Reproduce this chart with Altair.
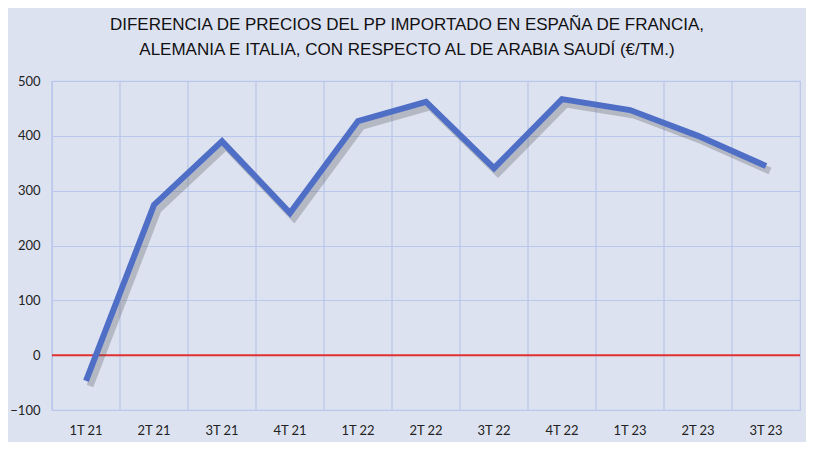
import altair as alt
import pandas as pd

categories = ["1T 21", "2T 21", "3T 21", "4T 21", "1T 22", "2T 22", "3T 22", "4T 22", "1T 23", "2T 23", "3T 23"]
values = [-47, 274, 390, 259, 427, 462, 341, 467, 447, 400, 345]
title_lines = ["DIFERENCIA DE PRECIOS DEL PP IMPORTADO EN ESPAÑA DE FRANCIA,",
               "ALEMANIA E ITALIA, CON RESPECTO AL DE ARABIA SAUDÍ (€/TM.)"]

df = pd.DataFrame({"cat": categories, "val": values})
zero = pd.DataFrame({"y": [0]})

FONT = "Liberation Sans, sans-serif"
LABEL_FONT = "Lato, Open Sans, sans-serif"
GRID = "#b9c7ea"

xscale = alt.Scale(domain=categories, paddingInner=0, paddingOuter=0)
xaxis = alt.Axis(labelAngle=0, grid=False, domain=False, ticks=False, labelPadding=14,
                 labelFontSize=13, labelFont=LABEL_FONT, labelColor="#222222")
x = alt.X("cat:N", sort=categories, title=None, scale=xscale, axis=xaxis)
y = alt.Y("val:Q", title=None,
          scale=alt.Scale(domain=[-100, 500], nice=False),
          axis=alt.Axis(values=[-100, 0, 100, 200, 300, 400, 500], gridColor=GRID, gridWidth=1.2,
                        domain=False, ticks=False, labelPadding=12, labelFontSize=13,
                        labelFont=LABEL_FONT, labelColor="#222222"))

vgrid = alt.Chart(df).mark_rule(color=GRID, strokeWidth=1.2).encode(
    x=alt.X("cat:N", sort=categories, title=None, scale=xscale, bandPosition=0, axis=xaxis))
shadow = alt.Chart(df).mark_line(color="#555555", opacity=0.3, strokeWidth=7,
                                 xOffset=4, yOffset=5, strokeJoin="miter").encode(x=x, y=y)
line = alt.Chart(df).mark_line(color="#4f6fc6", strokeWidth=6, strokeJoin="miter").encode(x=x, y=y)
rule = alt.Chart(zero).mark_rule(color="#e03030", strokeWidth=2).encode(y="y:Q")

chart = alt.layer(vgrid, rule, shadow, line).properties(
    width=748, height=329,
    autosize=alt.AutoSizeParams(type="none"),
    padding={"left": 44, "top": 73, "right": 6, "bottom": 32},
    background="#dde2f1",
    title=alt.TitleParams(title_lines, font=FONT, fontSize=17, fontWeight="normal",
                          color="#111111", anchor="middle", dx=-19, offset=16, lineHeight=25),
).configure_view(stroke=GRID, strokeWidth=1.2)

chart.save("out.html", embed_options={"renderer": "svg", "actions": False})
